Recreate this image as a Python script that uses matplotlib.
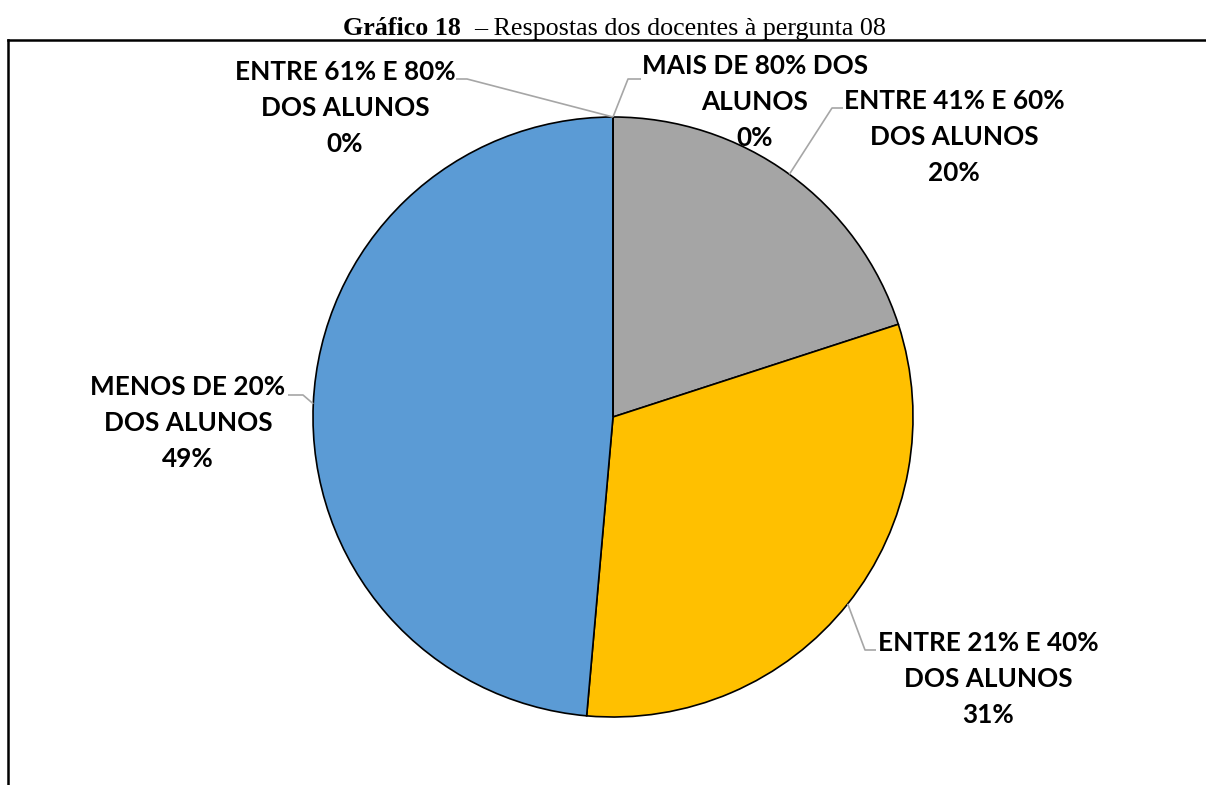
import matplotlib
matplotlib.use("Agg")
import matplotlib.pyplot as plt
import numpy as np
from matplotlib.lines import Line2D

# ---- data ----
categories = ["MAIS DE 80% DOS\nALUNOS", "ENTRE 41% E 60%\nDOS ALUNOS",
              "ENTRE 21% E 40%\nDOS ALUNOS", "MENOS DE 20%\nDOS ALUNOS",
              "ENTRE 61% E 80%\nDOS ALUNOS"]
values = [0.0, 20.0, 31.4, 48.6, 0.0]
colors = ["#A5A5A5", "#A5A5A5", "#FFC000", "#5B9BD5", "#5B9BD5"]

W, H = 1206, 785
fig = plt.figure(figsize=(W / 100, H / 100), dpi=100)
ax = fig.add_axes([0, 0, 1, 1])
ax.axis("off")

def Y(y):
    return H - y

cx, cy, R = 613, Y(417), 300
wedges, _ = ax.pie(values, colors=colors, startangle=90, counterclock=False,
                   center=(cx, cy), radius=R,
                   wedgeprops=dict(edgecolor="black", linewidth=1.2))
ax.set_xlim(0, W)
ax.set_ylim(0, H)
ax.set_aspect("auto")

# label layout (text centre, leader elbow, leader end) in pixel coords
layout = [
    ((755, 102), (628, 79), (641, 79)),
    ((954, 137), (832, 108), (843, 108)),
    ((988, 679), (865, 650), (876, 650)),
    ((188, 423), (303, 395), (288, 395)),
    ((345, 108), (467, 79), (456, 79)),
]

total = sum(values)
for w, cat, v, (tc, el, en) in zip(wedges, categories, values, layout):
    mid = np.deg2rad((w.theta1 + w.theta2) / 2)
    px, py = cx + R * np.cos(mid), cy + R * np.sin(mid)
    ax.plot([px, el[0], en[0]], [py, Y(el[1]), Y(en[1])],
            color="#A6A6A6", lw=1.2, zorder=1, solid_capstyle="butt")
    pct = round(100 * v / total)
    ax.text(tc[0], Y(tc[1]), f"{cat}\n{pct}%", ha="center", va="center",
            multialignment="center", fontsize=18.8, fontweight="bold",
            family="Lato", linespacing=1.58, color="black")

# title
fig.text(461 / W, 1 - 35 / H, "Gráfico 18", ha="right", va="baseline",
         family="Liberation Serif", fontweight="bold", fontsize=18.7)
fig.text(474 / W, 1 - 35 / H, "– Respostas dos docentes à pergunta 08",
         ha="left", va="baseline", family="Liberation Serif", fontsize=18.7)

# frame lines
fig.add_artist(Line2D([8 / W, 1], [1 - 40 / H, 1 - 40 / H],
                      transform=fig.transFigure, color="black", lw=1.8))
fig.add_artist(Line2D([8 / W, 8 / W], [1 - 40 / H, 0],
                      transform=fig.transFigure, color="black", lw=1.8))

fig.savefig("out.png", dpi=100)
